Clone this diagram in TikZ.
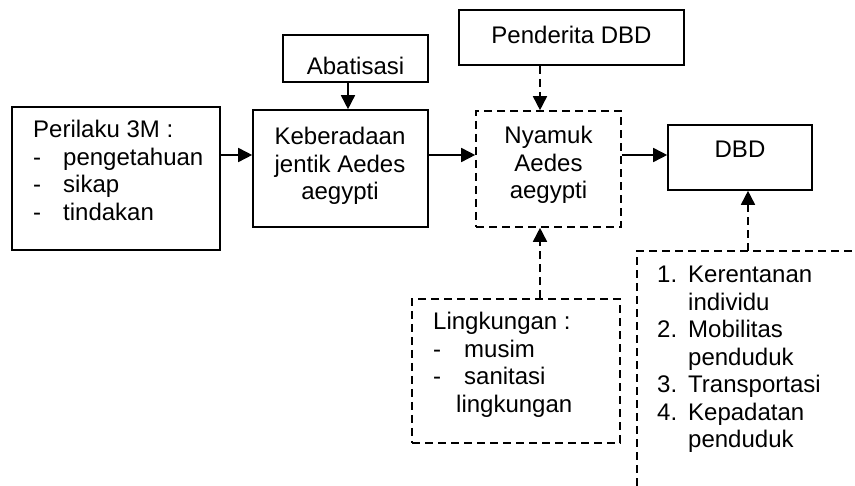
\documentclass[tikz,border=0pt]{standalone}
\usepackage{fontspec}
\setmainfont{Liberation Sans}
\usetikzlibrary{arrows.meta}
\begin{document}
\begin{tikzpicture}[x=1pt,y=-1pt,
  every node/.style={font=\fontsize{24}{27.5}\selectfont},
  box/.style={draw,line width=1.6pt,inner sep=0pt,minimum width=#1},
  dbox/.style={draw,line width=1.6pt,inner sep=0pt,dash pattern=on 8pt off 5pt,minimum width=#1},
  txt/.style={inner sep=0pt,anchor=base west},
  ctxt/.style={inner sep=0pt,anchor=base},
  arr/.style={line width=1.6pt,-{Triangle[length=14pt,width=14pt]}},
  darr/.style={line width=1.6pt,dash pattern=on 8pt off 5pt,-{Triangle[length=14pt,width=14pt]}},
  dline/.style={line width=1.6pt,dash pattern=on 8pt off 5pt}]
\useasboundingbox (0,0) rectangle (855,486);
% boxes
\node[box=208pt,minimum height=143pt] (perilaku) at (116,178.5) {};
\node[box=175pt,minimum height=117pt] (keber) at (340.5,168.5) {};
\node[box=145pt,minimum height=47pt] (abat) at (355.5,58.5) {};
\node[box=225pt,minimum height=55pt] (pend) at (571.5,37.5) {};
\node[dbox=145pt,minimum height=116pt] (nyamuk) at (548.5,169) {};
\node[box=144pt,minimum height=65pt] (dbd) at (740,157.5) {};
\node[dbox=208pt,minimum height=144pt] (ling) at (516,371) {};
% open dashed region on the right
\coordinate (fcorner) at (637,251);
\coordinate (fjoin) at (748,251);
\draw[dline] (637,486) -- (fcorner) -- (855,251);
% texts
\node[txt] (tperilaku) at (33,138) {\begin{tabular}[t]{@{}l@{}}Perilaku 3M :\\
  \makebox[30pt][l]{-}pengetahuan\\
  \makebox[30pt][l]{-}sikap\\
  \makebox[30pt][l]{-}tindakan\end{tabular}};
\node[ctxt] (tkeber) at (340,145) {\begin{tabular}[t]{@{}c@{}}Keberadaan\\jentik Aedes\\aegypti\end{tabular}};
\node[ctxt] (tabat) at (355.5,75) {Abatisasi};
\node[ctxt] (tpend) at (571.5,44) {Penderita DBD};
\node[ctxt] (tnyamuk) at (548.5,144) {\begin{tabular}[t]{@{}c@{}}Nyamuk\\Aedes\\aegypti\end{tabular}};
\node[ctxt] (tdbd) at (740,158) {DBD};
\node[txt] (tling) at (433,330) {\begin{tabular}[t]{@{}l@{}}Lingkungan :\\
  \makebox[31pt][l]{-}musim\\
  \makebox[31pt][l]{-}sanitasi\\
  \hspace{23pt}lingkungan\end{tabular}};
\node[txt] (tfak) at (657,283) {\begin{tabular}[t]{@{}l@{}}\makebox[31pt][l]{1.}Kerentanan\\
  \hspace{31pt}individu\\
  \makebox[31pt][l]{2.}Mobilitas\\
  \hspace{31pt}penduduk\\
  \makebox[31pt][l]{3.}Transportasi\\
  \makebox[31pt][l]{4.}Kepadatan\\
  \hspace{31pt}penduduk\end{tabular}};
% connectors
\coordinate (yrow) at (0,155);
\coordinate (xabat) at (348,0);
\coordinate (xnyam) at (540,0);
\draw[arr] (perilaku.east |- yrow) -- (keber.west |- yrow);
\draw[arr] (keber.east |- yrow) -- (nyamuk.west |- yrow);
\draw[arr] (nyamuk.east |- yrow) -- (dbd.west |- yrow);
\draw[arr] (abat.south -| xabat) -- (keber.north -| xabat);
\draw[darr] (pend.south -| xnyam) -- (nyamuk.north -| xnyam);
\draw[darr] (ling.north -| xnyam) -- (nyamuk.south -| xnyam);
\draw[darr] (fjoin) -- (dbd.south -| fjoin);
\end{tikzpicture}
\end{document}
